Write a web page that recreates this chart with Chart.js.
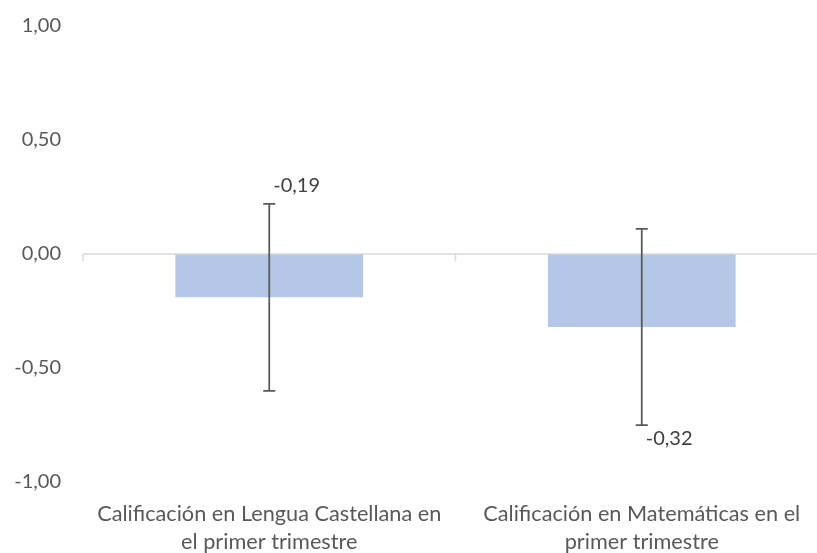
<!DOCTYPE html>
<html>
<head>
<meta charset="utf-8">
<script src="https://cdn.jsdelivr.net/npm/chart.js@4"></script>
<style>
  html, body { margin: 0; padding: 0; background: #ffffff; overflow: hidden; }
  #wrap { position: relative; width: 828px; height: 553px; }
</style>
</head>
<body>
<div id="wrap"><canvas id="c"></canvas></div>
<script>
// Categories (two-line axis labels), mean differences and error half-widths
const categories = [
  ["Calificación en Lengua Castellana en", "el primer trimestre"],
  ["Calificación en Matemáticas en el", "primer trimestre"]
];
const means = [-0.19, -0.32];
const errors = [0.41, 0.43];
const yTicks = [-1, -0.5, 0, 0.5, 1];

const fmt = v => v.toFixed(2).replace('.', ',');
const FONT = 'Lato';
const AXIS_COLOR = '#595959';

// Zero line with category tick marks, error bars and value labels
const overlay = {
  id: 'overlay',
  afterDatasetsDraw(chart, args, opts) {
    const { ctx, scales: { x, y } } = chart;
    const meta = chart.getDatasetMeta(0);
    const y0 = y.getPixelForValue(0);
    const step = x.getPixelForValue(1) - x.getPixelForValue(0);

    ctx.save();
    // zero axis line
    ctx.strokeStyle = '#d9d9d9';
    ctx.lineWidth = 1.5;
    ctx.beginPath();
    ctx.moveTo(chart.chartArea.left, y0);
    ctx.lineTo(chart.chartArea.right, y0);
    for (let i = 0; i <= categories.length; i++) {
      const px = x.getPixelForValue(i) - step / 2;
      ctx.moveTo(px, y0);
      ctx.lineTo(px, y0 + 7);
    }
    ctx.stroke();

    // error bars
    ctx.strokeStyle = '#595959';
    ctx.lineWidth = 1.75;
    means.forEach((m, i) => {
      const cx = meta.data[i].x;
      const top = y.getPixelForValue(m + errors[i]);
      const bot = y.getPixelForValue(m - errors[i]);
      ctx.beginPath();
      ctx.moveTo(cx, top); ctx.lineTo(cx, bot);
      ctx.moveTo(cx - 6, top); ctx.lineTo(cx + 6, top);
      ctx.moveTo(cx - 6, bot); ctx.lineTo(cx + 6, bot);
      ctx.stroke();
    });

    // value labels, placed beside the error bar ends
    ctx.fillStyle = '#404040';
    ctx.font = '20px ' + FONT;
    ctx.textAlign = 'left';
    ctx.textBaseline = 'middle';
    means.forEach((m, i) => {
      const cx = meta.data[i].x;
      if (opts.sides[i] === 'above') {
        const top = y.getPixelForValue(m + errors[i]);
        ctx.fillText(fmt(m), cx + 4, top - 18);
      } else {
        const bot = y.getPixelForValue(m - errors[i]);
        ctx.fillText(fmt(m), cx + 4, bot + 14);
      }
    });
    ctx.restore();
  }
};

new Chart(document.getElementById('c'), {
  type: 'bar',
  data: {
    labels: categories,
    datasets: [{
      data: means,
      backgroundColor: '#B4C7E7',
      borderWidth: 0,
      barPercentage: 0.504,
      categoryPercentage: 1
    }]
  },
  options: {
    responsive: true,
    maintainAspectRatio: false,
    animation: false,
    layout: { padding: { top: 17, left: 0, right: 0, bottom: 0 } },
    plugins: {
      legend: { display: false },
      tooltip: { enabled: false },
      overlay: { sides: ['above', 'below'] }
    },
    scales: {
      x: {
        offset: true,
        grid: { display: false },
        border: { display: false },
        ticks: {
          color: AXIS_COLOR,
          font: { family: FONT, size: 21.7, lineHeight: 1.3 },
          padding: 10,
          maxRotation: 0,
          autoSkip: false
        },
        afterFit(s) { s.height = 71; }
      },
      y: {
        min: -1,
        max: 1,
        afterBuildTicks(s) { s.ticks = yTicks.map(v => ({ value: v })); },
        grid: { display: false },
        border: { display: false },
        ticks: {
          color: AXIS_COLOR,
          font: { family: FONT, size: 20 },
          padding: 14,
          callback: v => fmt(v)
        },
        afterFit(s) { s.width = 83; }
      }
    }
  },
  plugins: [overlay]
});
</script>
</body>
</html>
